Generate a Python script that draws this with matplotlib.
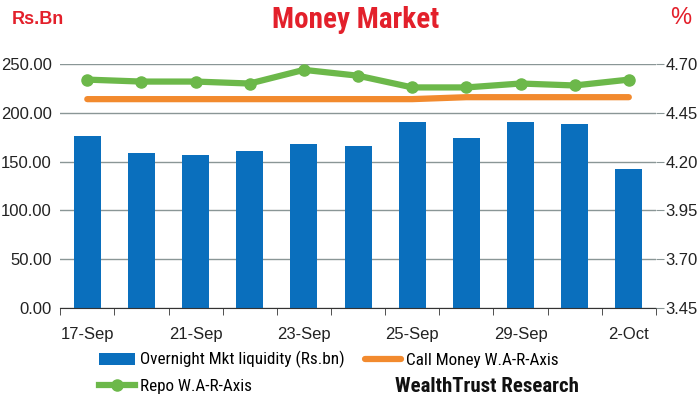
import numpy as np
import matplotlib
matplotlib.use('Agg')
import matplotlib.pyplot as plt
from matplotlib.ticker import FormatStrFormatter

# plain sans for axis numbers, condensed font for title / legend
plt.rcParams['font.family'] = ['Liberation Sans', 'DejaVu Sans']
cond_font = ['Roboto Condensed', 'DejaVu Sans']

# data
dates = ['17-Sep', '18-Sep', '21-Sep', '22-Sep', '23-Sep', '24-Sep',
         '25-Sep', '28-Sep', '29-Sep', '30-Sep', '2-Oct']
liquidity = [176, 159, 157, 161, 168, 166, 191, 174, 191, 189, 142]
repo_rate = [4.62, 4.61, 4.61, 4.60, 4.67, 4.64, 4.58, 4.58, 4.60, 4.59, 4.62]
call_rate = [4.52, 4.52, 4.52, 4.52, 4.52, 4.52, 4.52, 4.53, 4.53, 4.53, 4.53]

x = np.arange(len(dates))

fig = plt.figure(figsize=(7, 4), dpi=100)
ax = fig.add_axes([0.086, 0.23, 0.851, 0.61])

bars = ax.bar(x, liquidity, width=0.5, color='#0a6fbd', zorder=2,
              label='Overnight Mkt liquidity (Rs.bn)')
ax.set_ylim(0, 250)
ax.set_yticks(np.arange(0, 251, 50))
ax.yaxis.set_major_formatter(FormatStrFormatter('%.2f'))
ax.set_xlim(-0.5, len(dates) - 0.5)
ax.grid(axis='y', color='#8a9696', lw=1)
ax.set_axisbelow(True)

ax.set_xticks(x[::2])
ax.set_xticklabels(dates[::2])
ax.set_xticks(np.arange(-0.5, len(dates), 1), minor=True)
ax.tick_params(axis='x', which='major', length=0, pad=14, labelsize=12,
               labelcolor='#222222')
ax.tick_params(axis='x', which='minor', length=5, color='#333333')
ax.tick_params(axis='y', length=0, pad=6, labelsize=12, labelcolor='#222222')
for s in ['top', 'left', 'right']:
    ax.spines[s].set_visible(False)
ax.spines['bottom'].set_color('#333333')

ax2 = ax.twinx()
ax2.set_ylim(3.45, 4.70)
ax2.set_yticks(np.arange(3.45, 4.71, 0.25))
ax2.yaxis.set_major_formatter(FormatStrFormatter('%.2f'))
ax2.tick_params(axis='y', length=6, color='#8a9696', pad=1, labelsize=12,
                labelcolor='#222222')
for s in ax2.spines.values():
    s.set_visible(False)

call_line, = ax2.plot(x, call_rate, color='#f28a2e', lw=4.5,
                      solid_capstyle='round', label='Call Money W.A-R-Axis')
repo_line, = ax2.plot(x, repo_rate, color='#6cb84a', lw=4.5, marker='o',
                      markersize=8, solid_joinstyle='round',
                      label='Repo W.A-R-Axis')

fig.legend(handles=[bars, repo_line, call_line],
           labels=['Overnight Mkt liquidity (Rs.bn)', 'Repo W.A-R-Axis',
                   'Call Money W.A-R-Axis'],
           ncol=2, loc='upper left', bbox_to_anchor=(0.141, 0.122),
           frameon=False, prop={'family': cond_font, 'size': 12.3},
           handlelength=2.1, handletextpad=0.3,
           columnspacing=1.2, labelspacing=0.6, borderaxespad=0,
           borderpad=0)

fig.text(0.508, 0.95, 'Money Market', color='#e3202b', fontsize=21,
         fontweight='bold', ha='center', va='center', family=cond_font)
fig.text(0.017, 0.95, 'Rs.Bn', color='#e3202b', fontsize=13,
         fontweight='bold', ha='left', va='center')
fig.text(0.988, 0.955, '%', color='#e3202b', fontsize=17,
         ha='right', va='center')
fig.text(0.564, 0.035, 'WealthTrust Research', color='#111111', fontsize=15,
         fontweight='bold', ha='left', va='center', family=cond_font)

fig.savefig('out.png', dpi=100)
